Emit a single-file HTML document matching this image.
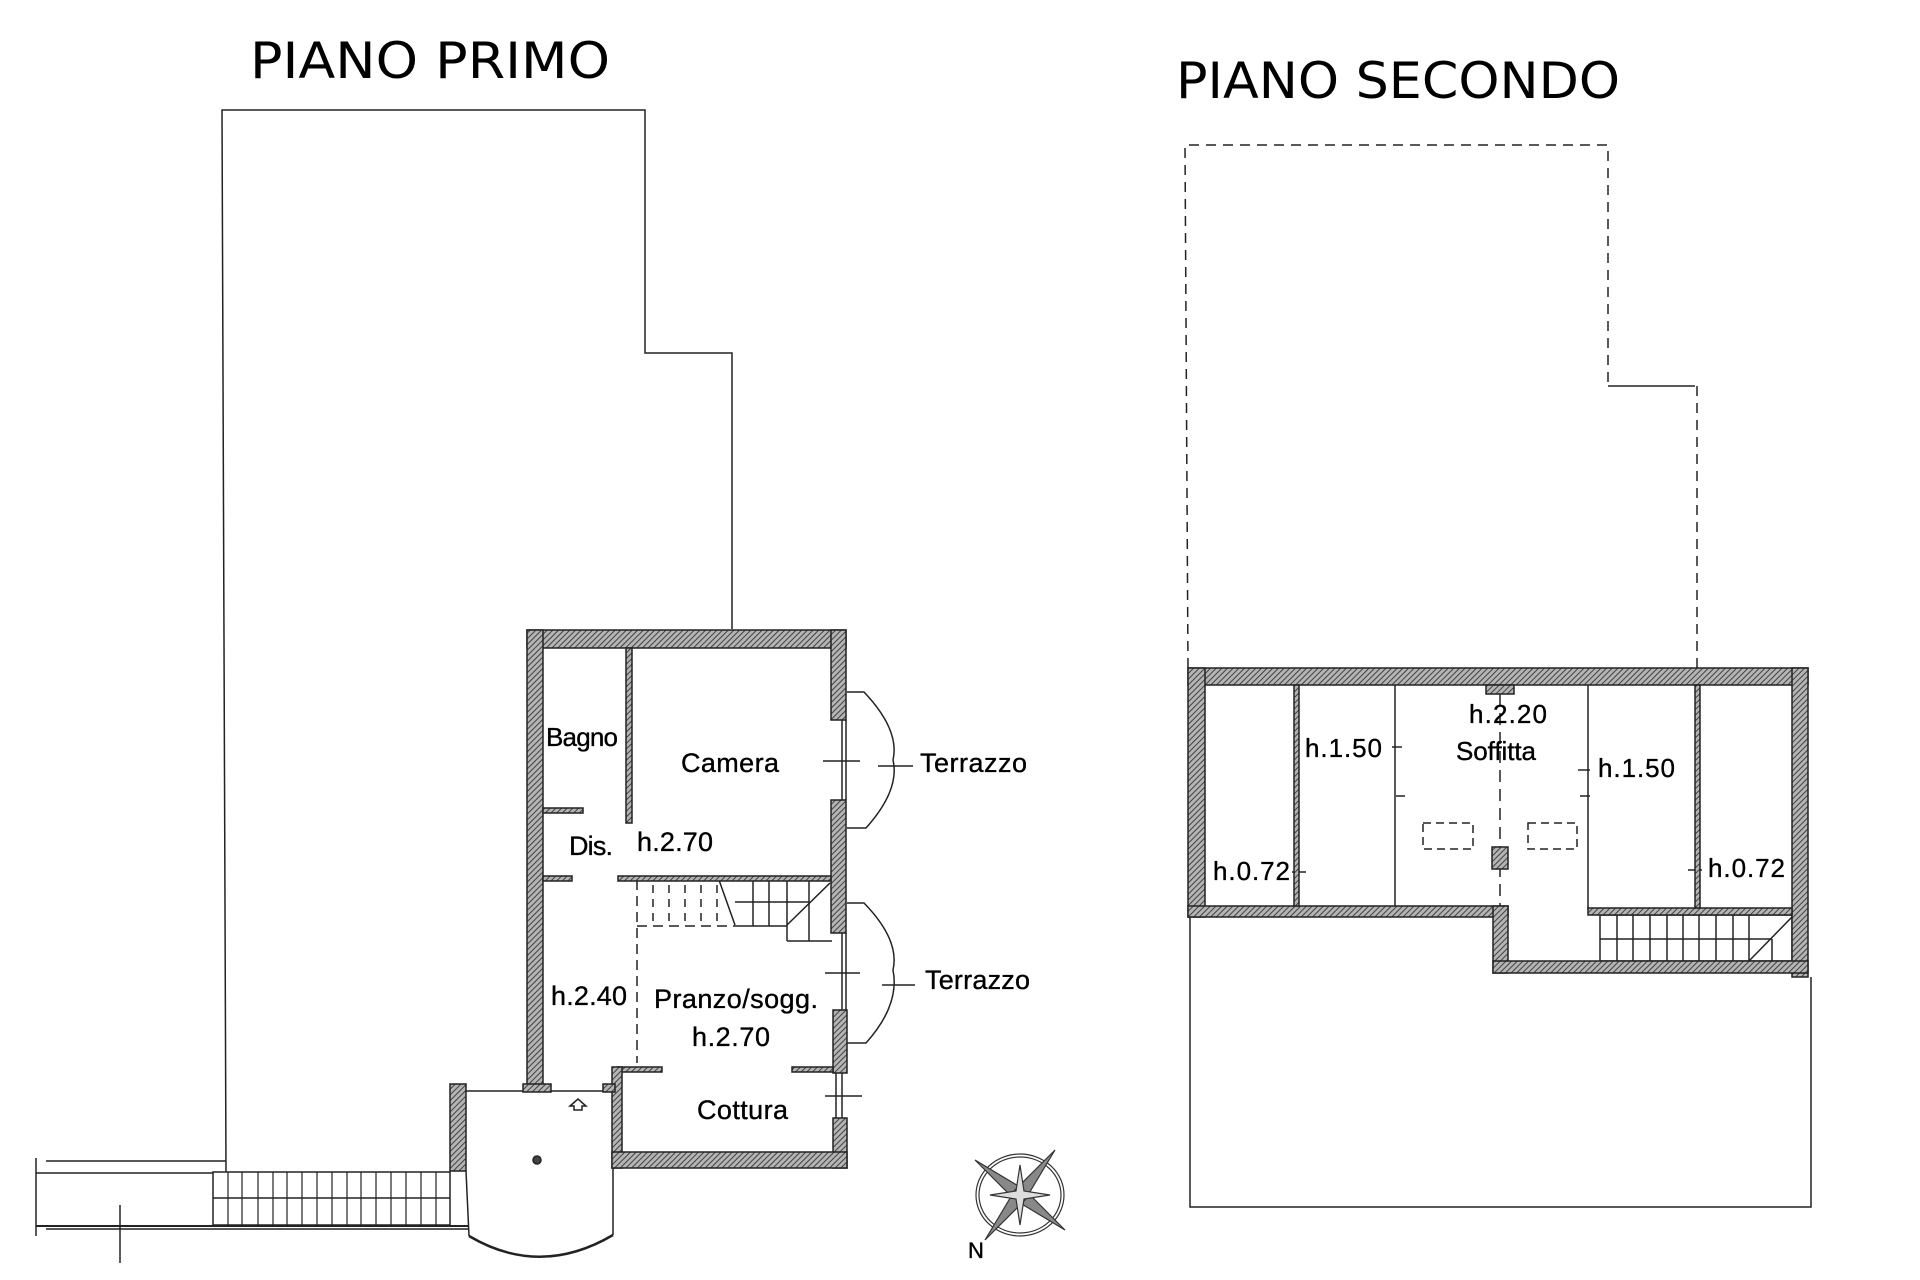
<!DOCTYPE html>
<html><head><meta charset="utf-8"><style>
html,body{margin:0;padding:0;background:#fff;}
svg{display:block}
text{font-family:"Liberation Sans",Arial,sans-serif;fill:#000;stroke:#000;stroke-width:0.35}
.t{font-family:"DejaVu Sans",sans-serif;font-size:50px;fill:#000;stroke:none}
</style></head><body>
<svg width="1920" height="1280" viewBox="0 0 1920 1280" xmlns="http://www.w3.org/2000/svg">
<defs>
<pattern id="h" width="4" height="4" patternUnits="userSpaceOnUse" patternTransform="rotate(45)">
<rect width="4" height="4" fill="#b4b4b4"/><line x1="0" y1="0" x2="0" y2="4" stroke="#3a3a3a" stroke-width="1.9"/>
</pattern>
</defs>
<g fill="none" stroke="#222" stroke-width="1.5">
<polyline points="226,1172 222,110 645,110 645,353 732,353 732,629"/>
<line x1="46" y1="1161" x2="226" y2="1161"/>
<line x1="36" y1="1173" x2="213" y2="1173"/>
<line x1="36" y1="1158" x2="36" y2="1236"/>
<line x1="36" y1="1226" x2="469" y2="1226" stroke-width="2"/>
<line x1="46" y1="1229" x2="469" y2="1229"/>
<line x1="120" y1="1205" x2="120" y2="1263"/>
<rect x="213" y="1172" width="237" height="53"/>
<line x1="213" y1="1198" x2="450" y2="1198"/>
<g stroke-width="1.2">
<line x1="228" y1="1172" x2="228" y2="1225"/><line x1="242" y1="1172" x2="242" y2="1225"/><line x1="258" y1="1172" x2="258" y2="1225"/><line x1="273" y1="1172" x2="273" y2="1225"/><line x1="287" y1="1172" x2="287" y2="1225"/><line x1="302" y1="1172" x2="302" y2="1225"/><line x1="317" y1="1172" x2="317" y2="1225"/><line x1="332" y1="1172" x2="332" y2="1225"/><line x1="347" y1="1172" x2="347" y2="1225"/><line x1="361" y1="1172" x2="361" y2="1225"/><line x1="376" y1="1172" x2="376" y2="1225"/><line x1="391" y1="1172" x2="391" y2="1225"/><line x1="406" y1="1172" x2="406" y2="1225"/><line x1="421" y1="1172" x2="421" y2="1225"/><line x1="436" y1="1172" x2="436" y2="1225"/>
</g>
<line x1="466" y1="1091" x2="612" y2="1091"/>
<polyline points="466,1171 469,1236"/>
<path d="M469,1236 Q540,1278 613,1235" stroke-width="2.5"/>
<line x1="613" y1="1092" x2="613" y2="1235"/>
<circle cx="537" cy="1160" r="4" fill="#444"/>
<path d="M570,1106 L578,1099 L586,1106 L582,1106 L582,1110 L574,1110 L574,1106 Z"/>
<line x1="842" y1="720" x2="842" y2="800"/><line x1="846" y1="720" x2="846" y2="800"/>
<path d="M847,692 L864,692 Q900,730 893,760 Q900,790 866,828 L847,828"/>
<line x1="823" y1="761" x2="860" y2="761"/><line x1="878" y1="766" x2="913" y2="766"/>
<line x1="842" y1="933" x2="842" y2="1010"/><line x1="846" y1="933" x2="846" y2="1010"/>
<path d="M847,903 L864,903 Q900,940 893,970 Q900,1005 866,1043 L847,1043"/>
<line x1="825" y1="973" x2="860" y2="973"/><line x1="882" y1="985" x2="915" y2="985"/>
<line x1="836" y1="1073" x2="836" y2="1118"/><line x1="842" y1="1073" x2="842" y2="1118"/>
<line x1="825" y1="1096" x2="862" y2="1096"/>
<line x1="637" y1="926" x2="733" y2="926" stroke-dasharray="10,6"/>
<line x1="637" y1="880" x2="637" y2="1063" stroke-dasharray="10,6"/>
<g stroke-dasharray="8,6"><line x1="653" y1="885" x2="653" y2="926"/><line x1="669" y1="885" x2="669" y2="926"/><line x1="685" y1="885" x2="685" y2="926"/><line x1="701" y1="885" x2="701" y2="926"/><line x1="717" y1="885" x2="717" y2="926"/></g>
<line x1="719" y1="880" x2="735" y2="925"/>
<line x1="733" y1="926" x2="787" y2="926"/>
<line x1="735" y1="902" x2="809" y2="902"/>
<line x1="753" y1="880" x2="753" y2="926"/><line x1="769" y1="880" x2="769" y2="926"/><line x1="787" y1="880" x2="787" y2="941"/><line x1="809" y1="880" x2="809" y2="941"/>
<line x1="787" y1="941" x2="832" y2="941"/>
<line x1="787" y1="925" x2="830" y2="883"/>
</g>
<g fill="url(#h)" stroke="#222" stroke-width="1.5">
<rect x="527" y="630" width="319" height="18"/>
<rect x="527" y="630" width="16" height="456"/>
<rect x="831" y="630" width="15" height="90"/>
<rect x="831" y="800" width="15" height="133"/>
<rect x="833" y="1010" width="14" height="63"/>
<rect x="833" y="1118" width="14" height="50"/>
<rect x="626" y="648" width="6" height="175"/>
<rect x="543" y="808" width="40" height="5"/>
<rect x="543" y="876" width="29" height="5"/>
<rect x="618" y="876" width="213" height="5"/>
<rect x="617" y="1067" width="45" height="5"/>
<rect x="792" y="1067" width="41" height="5"/>
<rect x="612" y="1067" width="10" height="101"/>
<rect x="612" y="1152" width="235" height="16"/>
<rect x="450" y="1084" width="16" height="87"/>
<rect x="523" y="1084" width="28" height="8"/>
<rect x="603" y="1084" width="12" height="8"/>
</g>
<text x="250" y="78" class="t" textLength="360" lengthAdjust="spacingAndGlyphs">PIANO PRIMO</text>
<text x="546" y="746" font-size="26" textLength="72">Bagno</text>
<text x="681" y="772" font-size="27" textLength="98">Camera</text>
<text x="569" y="855" font-size="27" textLength="44">Dis.</text>
<text x="637" y="851" font-size="27" textLength="76">h.2.70</text>
<text x="551" y="1005" font-size="27" textLength="76">h.2.40</text>
<text x="654" y="1008" font-size="27" textLength="164">Pranzo/sogg.</text>
<text x="692" y="1046" font-size="27" textLength="78">h.2.70</text>
<text x="697" y="1119" font-size="27" textLength="91">Cottura</text>
<text x="920" y="772" font-size="27" textLength="107">Terrazzo</text>
<text x="925" y="989" font-size="27" textLength="105">Terrazzo</text>
<g stroke="#333" stroke-width="1.2" fill="none">
<ellipse cx="1020" cy="1195" rx="44" ry="41"/>
<ellipse cx="1020" cy="1195" rx="41" ry="38"/>
<path d="M975,1160 L1025,1190 L1065,1230 L1015,1200 Z" fill="#888"/>
<path d="M1055,1150 L1025,1200 L985,1240 L1015,1190 Z" fill="#888"/>
<path d="M1020,1165 L1024,1191 L1050,1195 L1024,1199 L1020,1225 L1016,1199 L990,1195 L1016,1191 Z" fill="#ddd"/>
</g>
<text x="968" y="1258" font-size="22">N</text>

<g fill="none" stroke="#222" stroke-width="1.5">
<path d="M1188,668 L1185,145 L1608,145 L1608,386" stroke-dasharray="10,7"/>
<line x1="1608" y1="386" x2="1695" y2="386"/>
<line x1="1697" y1="386" x2="1697" y2="668" stroke-dasharray="10,7"/>
<polyline points="1190,917 1190,1207 1811,1207 1811,977"/>
<line x1="1395" y1="685" x2="1395" y2="917"/>
<line x1="1588" y1="685" x2="1588" y2="910"/>
<line x1="1500" y1="694" x2="1500" y2="906" stroke-dasharray="12,7"/>
<rect x="1423" y="823" width="50" height="26" stroke-dasharray="8,5"/>
<rect x="1528" y="823" width="49" height="26" stroke-dasharray="8,5"/>
<line x1="1392" y1="747" x2="1402" y2="747"/><line x1="1396" y1="796" x2="1405" y2="796"/>
<line x1="1578" y1="770" x2="1590" y2="770"/><line x1="1580" y1="796" x2="1590" y2="796"/>
<line x1="1292" y1="872" x2="1306" y2="872"/><line x1="1688" y1="870" x2="1702" y2="870"/>
<rect x="1600" y="915" width="192" height="46"/>
<line x1="1600" y1="939" x2="1772" y2="939"/>
<line x1="1617" y1="915" x2="1617" y2="961"/><line x1="1633" y1="915" x2="1633" y2="961"/><line x1="1650" y1="915" x2="1650" y2="961"/><line x1="1667" y1="915" x2="1667" y2="961"/><line x1="1683" y1="915" x2="1683" y2="961"/><line x1="1699" y1="915" x2="1699" y2="961"/><line x1="1716" y1="915" x2="1716" y2="961"/><line x1="1733" y1="915" x2="1733" y2="961"/><line x1="1749" y1="915" x2="1749" y2="961"/><line x1="1772" y1="939" x2="1772" y2="961"/>
<line x1="1749" y1="961" x2="1792" y2="917"/>
</g>
<g fill="url(#h)" stroke="#222" stroke-width="1.5">
<rect x="1188" y="668" width="620" height="17"/>
<rect x="1188" y="668" width="17" height="249"/>
<rect x="1792" y="668" width="16" height="309"/>
<rect x="1188" y="906" width="320" height="11"/>
<rect x="1493" y="906" width="15" height="67"/>
<rect x="1493" y="961" width="315" height="12"/>
<rect x="1588" y="908" width="204" height="7"/>
<rect x="1294" y="685" width="5" height="221"/>
<rect x="1695" y="685" width="5" height="223"/>
<rect x="1486" y="685" width="28" height="9"/>
<rect x="1492" y="847" width="16" height="22"/>
</g>
<text x="1176" y="98" class="t" textLength="444" lengthAdjust="spacingAndGlyphs">PIANO SECONDO</text>
<text x="1469" y="723" font-size="26" textLength="78">h.2.20</text>
<text x="1456" y="760" font-size="26" textLength="80">Soffitta</text>
<text x="1305" y="757" font-size="26" textLength="77">h.1.50</text>
<text x="1598" y="777" font-size="26" textLength="77">h.1.50</text>
<text x="1213" y="880" font-size="26" textLength="77">h.0.72</text>
<text x="1708" y="877" font-size="26" textLength="77">h.0.72</text>
</svg>
</body></html>
